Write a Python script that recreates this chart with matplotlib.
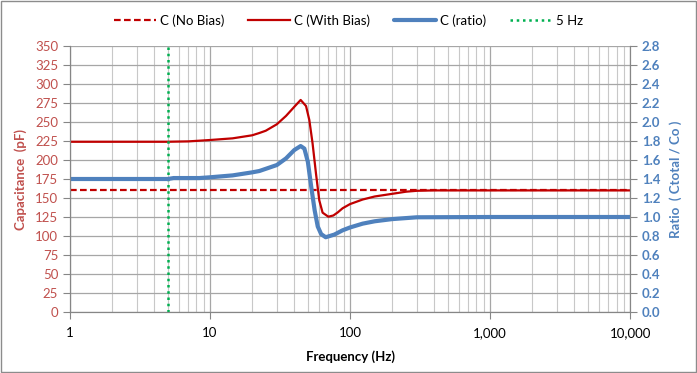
import matplotlib
matplotlib.use("Agg")
import matplotlib.pyplot as plt
from matplotlib.ticker import FixedLocator, NullFormatter, LogLocator
from matplotlib.patches import Rectangle

plt.rcParams['font.family'] = ['Lato', 'DejaVu Sans']

# ---- data ----
freq_bias = [1, 5, 7, 8.4, 10, 14.5, 20, 22.5, 25, 30, 34.9, 40, 44.4, 48.5, 51.2, 54,
             57.1, 60.3, 63.7, 70, 76, 81.6, 88.5, 100, 123, 150, 200, 251, 300, 400,
             1000, 10000]
c_with_bias = [224, 224, 224.5, 225.4, 226.3, 228.5, 232.5, 235.5, 238.5, 247, 258, 270,
               279, 271, 252.6, 222, 182.5, 147, 130.7, 125.4, 127, 131, 136.5, 142, 148,
               152, 155.5, 158.3, 159.5, 160, 160, 160]

freq_ratio = [1, 5, 5.5, 8.4, 10, 14.5, 20, 22.5, 30, 34.9, 40, 44.4, 47.2, 50, 52.8, 55.9,
              58.8, 62.2, 67, 77.3, 88.5, 100, 123, 150, 200, 300, 1000, 10000]
c_ratio = [1.40, 1.40, 1.41, 1.41, 1.418, 1.438, 1.47, 1.484, 1.547, 1.617, 1.705, 1.747,
           1.72, 1.58, 1.32, 1.07, 0.90, 0.82, 0.787, 0.815, 0.86, 0.89, 0.93, 0.955,
           0.978, 0.997, 1.0, 1.0]

freq_nobias = [1, 10000]
c_no_bias = [160, 160]

marker_freq = 5

x_ticks = [1, 10, 100, 1000, 10000]
x_labels = ["1", "10", "100", "1,000", "10,000"]
left_ticks = list(range(0, 351, 25))
right_ticks = [round(0.2 * i, 1) for i in range(15)]

# ---- colors ----
RED = "#C00000"
BLUE = "#4F81BD"
GREEN = "#00B050"
LRED = "#C0504D"

fig = plt.figure(figsize=(6.97, 3.73), dpi=100)
fig.patches.append(Rectangle((0.0015, 0.002), 0.997, 0.996, transform=fig.transFigure,
                             fill=False, edgecolor="#8C8C8C", linewidth=1.0))
ax = fig.add_axes([0.1004, 0.1635, 0.8036, 0.7132])
ax2 = ax.twinx()

ax.set_xscale("log")
ax.set_xlim(1, 10000)
ax.set_ylim(0, 350)
ax2.set_ylim(0, 2.8)

# grid
ax.xaxis.set_major_locator(FixedLocator(x_ticks))
ax.xaxis.set_minor_locator(LogLocator(base=10, subs=range(2, 10)))
ax.xaxis.set_minor_formatter(NullFormatter())
ax.set_xticklabels(x_labels)
ax.set_yticks(left_ticks)
ax2.set_yticks(right_ticks)
ax2.set_yticklabels([f"{v:.1f}" for v in right_ticks])

ax.grid(True, which="major", axis="both", color="#A6A6A6", linewidth=0.9)
ax.grid(True, which="minor", axis="x", color="#C8C8C8", linewidth=0.8)
ax.set_axisbelow(True)

ln1, = ax.plot(freq_nobias, c_no_bias, color=RED, linestyle=(0, (3, 1.5)), linewidth=1.6,
               label="C (No Bias)")
ln2, = ax.plot(freq_bias, c_with_bias, color=RED, linewidth=1.6, label="C (With Bias)",
               solid_joinstyle="round")
ln3, = ax2.plot(freq_ratio, c_ratio, color=BLUE, linewidth=3.0, label="C (ratio)",
                solid_capstyle="round", solid_joinstyle="round")
ln4 = ax.axvline(marker_freq, color=GREEN, linestyle=(0, (1, 1.5)), linewidth=1.8,
                 label="5 Hz")
ln4.set_zorder(5)

for a in (ax, ax2):
    a.spines["top"].set_visible(False)
    for s in ("left", "right", "bottom"):
        a.spines[s].set_color("#868686")

ax.tick_params(axis="y", which="both", colors="#868686", labelcolor=LRED, labelsize=9.5,
               length=5, direction="out")
ax2.tick_params(axis="y", colors="#868686", labelcolor=BLUE, labelsize=9.5, length=5,
                direction="out")
for t in ax2.get_yticklabels():
    t.set_fontweight("bold")
ax.tick_params(axis="x", which="major", colors="#868686", labelcolor="black", labelsize=9.5,
               length=5, pad=6)
ax.tick_params(axis="x", which="minor", length=0)

ax.set_xlabel("Frequency (Hz)", fontsize=9.5, fontweight="bold", labelpad=8)
ax.set_ylabel("Capacitance  (pF)", fontsize=9.5, fontweight="bold", color=LRED, labelpad=6)
ax2.set_ylabel("Ratio  ( Ctotal / Co )", fontsize=9.5, fontweight="bold", color=BLUE,
               labelpad=6)

fig.legend(handles=[ln1, ln2, ln3, ln4], loc="center", bbox_to_anchor=(0.5, 0.945),
           ncol=4, frameon=False, fontsize=9.5, handlelength=3.2, columnspacing=1.8,
           handletextpad=0.3)

fig.savefig("out.png", dpi=100)
